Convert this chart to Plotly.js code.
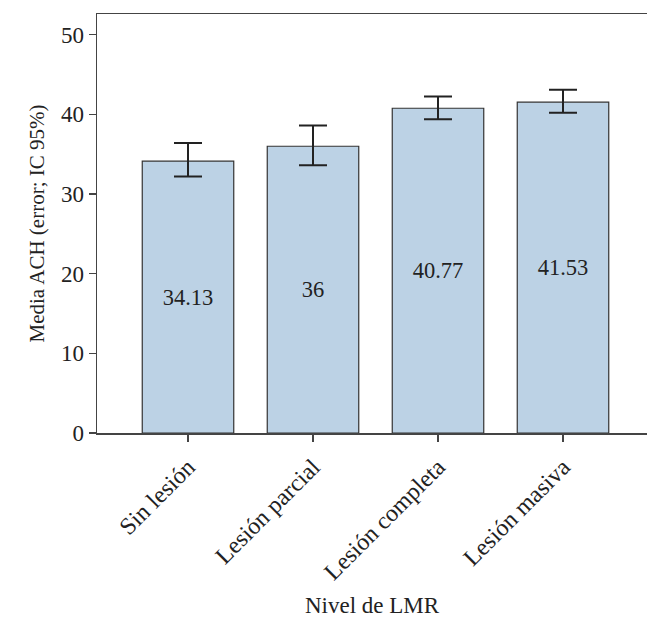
<!DOCTYPE html>
<html>
<head>
<meta charset="utf-8">
<script src="https://cdn.plot.ly/plotly-3.0.1.min.js"></script>
<style>html,body{margin:0;padding:0;background:#fff;}#chart{width:647px;height:618px;}</style>
</head>
<body>
<div id="chart"></div>
<script>
const categories = ["Sin lesión", "Lesión parcial", "Lesión completa", "Lesión masiva"];
const means = [34.13, 36, 40.77, 41.53];
const ciUpper = [36.4, 38.6, 42.25, 43.1];
const ciLower = [32.2, 33.6, 39.4, 40.2];
const labels = ["34.13", "36", "40.77", "41.53"];

const errPlus = means.map((m, i) => ciUpper[i] - m);
const errMinus = means.map((m, i) => m - ciLower[i]);

const FONT = "Liberation Serif, Times New Roman, serif";

const trace = {
  type: "bar",
  x: categories,
  y: means,
  width: 0.732,
  marker: { color: "#bcd2e5", line: { color: "#333333", width: 1.2 } },
  text: labels,
  textposition: "inside",
  insidetextanchor: "middle",
  textangle: 0,
  textfont: { family: FONT, size: 22.5, color: "#222222" },
  error_y: {
    type: "data",
    symmetric: false,
    array: errPlus,
    arrayminus: errMinus,
    color: "#222222",
    thickness: 2,
    width: 14
  },
  hoverinfo: "none"
};

const layout = {
  width: 647,
  height: 618,
  margin: { l: 97, r: 0, t: 14, b: 185 },
  paper_bgcolor: "#ffffff",
  plot_bgcolor: "#ffffff",
  showlegend: false,
  font: { family: FONT, size: 22, color: "#222222" },
  xaxis: {
    type: "category",
    range: [-0.728, 3.672],
    showline: true,
    linecolor: "#444444",
    linewidth: 1.5,
    mirror: true,
    ticks: "outside",
    ticklen: 7,
    tickcolor: "#444444",
    tickwidth: 1.5,
    tickangle: -45,
    ticklabelstandoff: 2,
    tickfont: { family: FONT, size: 24, color: "#222222" },
    showgrid: false,
    zeroline: false,
    automargin: false,
    title: { text: "Nivel de LMR", font: { family: FONT, size: 23, color: "#222222" }, standoff: 21 }
  },
  yaxis: {
    range: [0, 52.6],
    tickvals: [0, 10, 20, 30, 40, 50],
    showline: true,
    linecolor: "#444444",
    linewidth: 1.5,
    ticks: "outside",
    ticklen: 7,
    tickcolor: "#444444",
    tickwidth: 1.5,
    tickfont: { family: FONT, size: 23, color: "#222222" },
    showgrid: false,
    zeroline: false,
    automargin: false,
    title: { text: "Media ACH (error; IC 95%)", font: { family: FONT, size: 21, color: "#222222" }, standoff: 10 }
  }
};

Plotly.newPlot("chart", [trace], layout, { displayModeBar: false, staticPlot: true });
</script>
</body>
</html>
